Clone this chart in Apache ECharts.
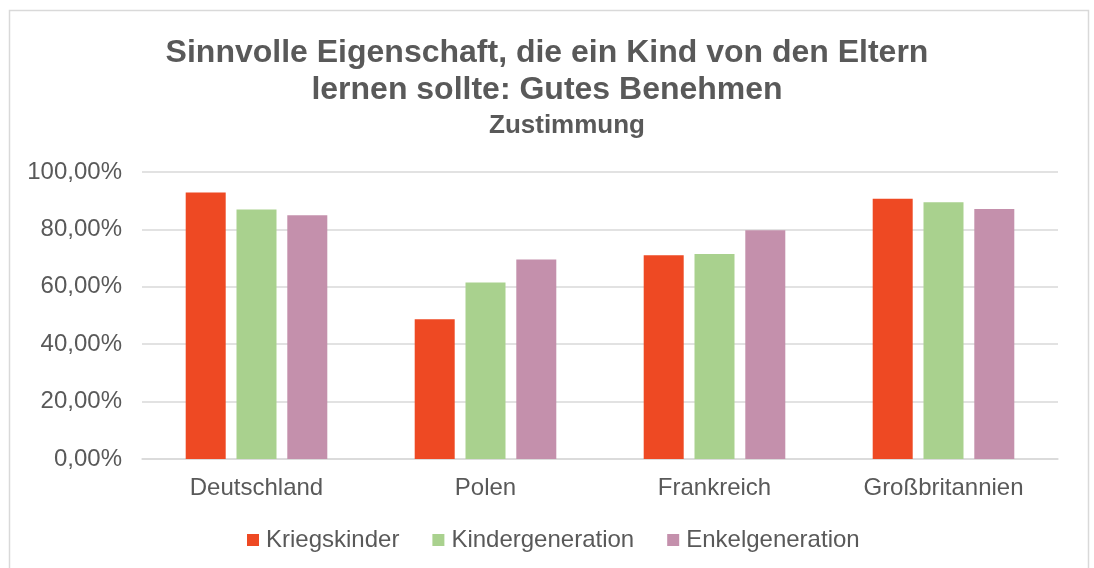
<!DOCTYPE html>
<html>
<head>
<meta charset="utf-8">
<script src="https://cdn.jsdelivr.net/npm/echarts@6/dist/echarts.min.js"></script>
<style>
  html, body { margin: 0; padding: 0; background: #fff; }
  #chart { width: 1094px; height: 568px; }
</style>
</head>
<body>
<div id="chart"></div>
<script>
// Zustimmung je Land und Generation (Anteil in %)
const countries = ['Deutschland', 'Polen', 'Frankreich', 'Großbritannien'];
const kriegskinder = [92.9, 48.7, 71.0, 90.7];
const kindergeneration = [86.9, 61.5, 71.4, 89.5];
const enkelgeneration = [84.9, 69.5, 79.7, 87.1];
const seriesNames = ['Kriegskinder', 'Kindergeneration', 'Enkelgeneration'];
const titleLines = ['Sinnvolle Eigenschaft, die ein Kind von den Eltern', 'lernen sollte: Gutes Benehmen', 'Zustimmung'];
const yTicks = [0, 20, 40, 60, 80, 100];

const textColor = '#595959';
const fontFamily = '"Liberation Sans", Arial, sans-serif';

const chart = echarts.init(document.getElementById('chart'));

function bar(name, data, color) {
  return {
    name: name,
    type: 'bar',
    data: data,
    barWidth: 40,
    barGap: '27%',
    itemStyle: { color: color },
    emphasis: { disabled: true }
  };
}

function titleLine(text, top, size, left) {
  return {
    text: text,
    left: left,
    top: top,
    padding: 0,
    textStyle: { fontSize: size, fontWeight: 'bold', color: textColor, fontFamily: fontFamily }
  };
}

chart.setOption({
  animation: false,
  textStyle: { fontFamily: fontFamily },
  graphic: [{
    type: 'rect',
    shape: { x: 9.5, y: 10.5, width: 1079, height: 570 },
    style: { fill: 'none', stroke: '#d9d9d9', lineWidth: 1.5 },
    silent: true
  }],
  title: [
    titleLine(titleLines[0], 37, 32, 'center'),
    titleLine(titleLines[1], 74, 32, 'center'),
    titleLine(titleLines[2], 113, 26, 489)
  ],
  legend: {
    data: seriesNames,
    top: 523,
    left: 242,
    icon: 'rect',
    itemWidth: 12,
    itemHeight: 12,
    itemGap: 33,
    textStyle: { fontSize: 24, color: textColor, fontFamily: fontFamily, padding: [0, 0, 0, 2] }
  },
  grid: { left: 142, right: 36, top: 172, bottom: 109, containLabel: false },
  xAxis: {
    type: 'category',
    data: countries,
    axisLine: { lineStyle: { color: '#d9d9d9', width: 1.5 } },
    axisTick: { show: false },
    axisLabel: { fontSize: 24, color: textColor, margin: 17, fontFamily: fontFamily }
  },
  yAxis: {
    type: 'value',
    min: yTicks[0],
    max: yTicks[yTicks.length - 1],
    interval: 20,
    axisLine: { show: false },
    axisTick: { show: false },
    splitLine: { lineStyle: { color: '#d9d9d9', width: 1.5 } },
    axisLabel: {
      fontSize: 24, color: textColor, margin: 20, fontFamily: fontFamily,
      formatter: v => v.toFixed(2).replace('.', ',') + '%'
    }
  },
  series: [
    bar(seriesNames[0], kriegskinder, '#EE4923'),
    bar(seriesNames[1], kindergeneration, '#A9D18E'),
    bar(seriesNames[2], enkelgeneration, '#C490AC')
  ]
});
</script>
</body>
</html>
